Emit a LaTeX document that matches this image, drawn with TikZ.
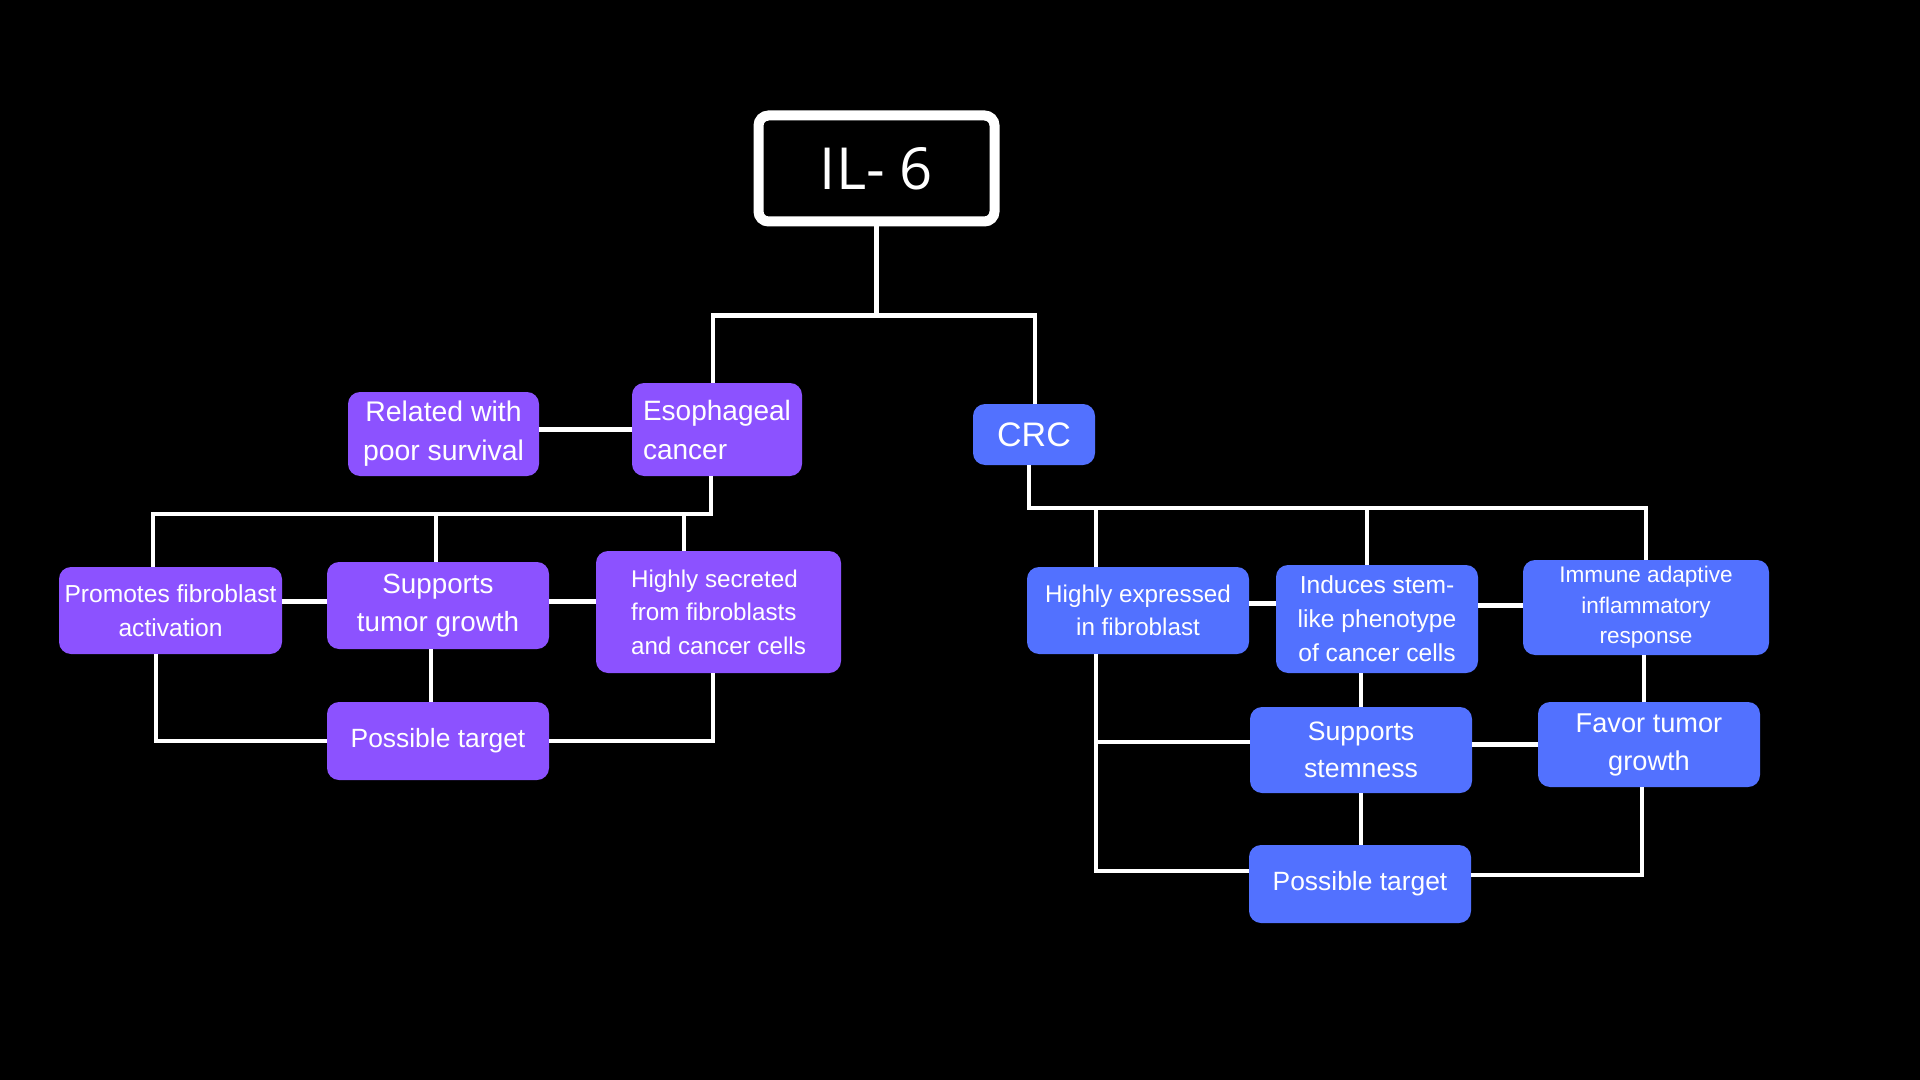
\documentclass[tikz,border=0pt]{standalone}
\usepackage{fontspec}
\setmainfont{Liberation Sans}
\newfontfamily\ilfont{Open Sans}
\definecolor{purp}{HTML}{8C52FF}
\definecolor{blu}{HTML}{5271FF}
\begin{document}
\begin{tikzpicture}[x=0.5pt,y=-0.5pt,
  box/.style={rounded corners=6pt, inner sep=0pt, text=white, align=center},
  pbox/.style={box, fill=purp},
  bbox/.style={box, fill=blu},
  conn/.style={draw=white, line width=2.3pt},
  fs/.style 2 args={font=\fontsize{#1}{#2}\selectfont}]
\fill[black] (0,0) rectangle (1920,1080);
\useasboundingbox (0,0) rectangle (1920,1080);

% root
\node[draw=white, line width=5pt, fill=black, rounded corners=5pt, minimum width=118pt, minimum height=53pt, inner sep=0pt, text=white, font=\ilfont\fontsize{29}{34}\selectfont] (il6) at (876.5,168.5) {IL- 6};

% left branch
\node[pbox, align=left, fs={14}{19.5}, minimum width=85pt, minimum height=46.5pt] (esoph) at (717,429.5) {Esophageal\\cancer};
\node[pbox, fs={14.2}{19.5}, minimum width=95.5pt, minimum height=42pt] (related) at (443.5,434) {Related with\\poor survival};
\node[pbox, fs={12.3}{17}, minimum width=111.5pt, minimum height=43.5pt] (promotes) at (170.5,610.5) {Promotes fibroblast\\activation};
\node[pbox, fs={13.9}{19}, minimum width=111pt, minimum height=43.5pt] (suptumor) at (438,605.5) {Supports\\tumor growth};
\node[pbox, align=left, fs={12.1}{16.8}, minimum width=122.5pt, minimum height=61pt] (secreted) at (718.5,612) {Highly secreted\\from fibroblasts\\and cancer cells};
\node[pbox, fs={13.2}{16}, minimum width=111pt, minimum height=39pt] (ptl) at (438,741) {Possible target};

% right branch
\node[bbox, fs={17}{20}, minimum width=61pt, minimum height=30.5pt] (crc) at (1034,434.5) {CRC};
\node[bbox, fs={12.1}{16.5}, minimum width=111pt, minimum height=43.5pt] (hexp) at (1138,610.5) {Highly expressed\\in fibroblast};
\node[bbox, fs={12.3}{17}, minimum width=101pt, minimum height=54pt] (induces) at (1377,619) {Induces stem-\\like phenotype\\of cancer cells};
\node[bbox, fs={11.3}{15.3}, minimum width=123pt, minimum height=47.5pt] (immune) at (1646,607.5) {Immune adaptive\\inflammatory\\response};
\node[bbox, fs={13.3}{18.4}, minimum width=111pt, minimum height=43pt] (stem) at (1361,750) {Supports\\stemness};
\node[bbox, fs={13.6}{19}, minimum width=111pt, minimum height=42.5pt] (favor) at (1649,744.5) {Favor tumor\\growth};
\node[bbox, fs={13.2}{16}, minimum width=111pt, minimum height=39pt] (ptr) at (1360,884) {Possible target};

% junction coordinates
\coordinate (eb) at (711,514);
\coordinate (cb) at (1029,508);
\coordinate (hx) at ([xshift=-21pt]hexp.south);

% top connectors
\draw[conn] (il6.south) -- ++(0,89) coordinate (top);
\draw[conn] ([xshift=-2pt]esoph.north) |- ([xshift=0.5pt]crc.north |- top) -- ([xshift=0.5pt]crc.north);

% left connectors
\draw[conn] (esoph.west -| related.east) -- (esoph.west);
\draw[conn] ([xshift=-3pt]esoph.south) -- (eb) -| ([xshift=-8.75pt]promotes.north);
\draw[conn] ([xshift=-1pt]suptumor.north) -- ([xshift=-1pt]suptumor.north |- eb);
\draw[conn] ([xshift=-17.25pt]secreted.north) -- ([xshift=-17.25pt]secreted.north |- eb);
\draw[conn] ([yshift=2pt]suptumor.west -| promotes.east) -- ([yshift=2pt]suptumor.west);
\draw[conn] ([yshift=2pt]suptumor.east) -- ([yshift=2pt]suptumor.east -| secreted.west);
\draw[conn] ([xshift=-3.5pt]suptumor.south) -- ([xshift=-3.5pt]suptumor.south |- ptl.north);
\draw[conn] ([xshift=-7.25pt]promotes.south) |- (ptl.west);
\draw[conn] ([xshift=-2.75pt]secreted.south) |- (ptl.east);

% right connectors
\draw[conn] ([xshift=-2.5pt]crc.south) -- (cb) -| (immune.north);
\draw[conn] ([xshift=-21pt]hexp.north) -- ([xshift=-21pt]hexp.north |- cb);
\draw[conn] ([xshift=-5pt]induces.north) -- ([xshift=-5pt]induces.north |- cb);
\draw[conn] ([yshift=3.5pt]hexp.east) -- ([yshift=3.5pt]hexp.east -| induces.west);
\draw[conn] ([yshift=1pt]immune.west -| induces.east) -- ([yshift=1pt]immune.west);
\draw[conn] (stem.north) -- (stem.north |- induces.south);
\draw[conn] ([xshift=-1pt]immune.south) -- ([xshift=-1pt]immune.south |- favor.north);
\draw[conn] (favor.west -| stem.east) -- (favor.west);
\draw[conn] (stem.south) -- (stem.south |- ptr.north);
\draw[conn] (hx) |- ([yshift=6.5pt]ptr.west);
\draw[conn] ([yshift=4pt]stem.west) -- ([yshift=4pt]stem.west -| hx);
\draw[conn] ([xshift=-3.5pt]favor.south) |- ([yshift=4.5pt]ptr.east);
\end{tikzpicture}
\end{document}
